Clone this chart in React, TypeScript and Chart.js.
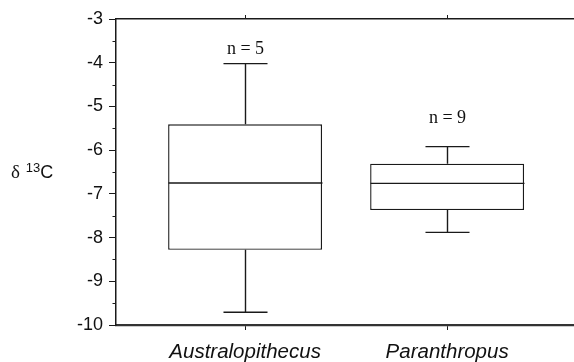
import React, { useEffect, useRef } from "react";
import { Chart, registerables } from "chart.js";

Chart.register(...registerables);

const categories = ["Australopithecus", "Paranthropus"];
const positions = [1, 2];
const whiskerMin = [-9.71, -7.88];
const q1 = [-8.28, -7.37];
const median = [-6.75, -6.76];
const q3 = [-5.41, -6.31];
const whiskerMax = [-4.02, -5.92];
const sampleLabels = ["n = 5", "n = 9"];
const sampleLabelY = [-3.8, -5.37];
const yTicks = [-10, -9, -8, -7, -6, -5, -4, -3];
const yMinorTicks = [-9.5, -8.5, -7.5, -6.5, -5.5, -4.5, -3.5];

const INK = "#1a1a1a";

const boxPlugin = {
  id: "boxExtras",
  afterDatasetsDraw(chart: any) {
    const { ctx } = chart;
    const x = chart.scales.x;
    const y = chart.scales.y;
    const meta = chart.getDatasetMeta(0);
    ctx.save();
    ctx.strokeStyle = INK;
    ctx.lineWidth = 1.4;
    positions.forEach((p, i) => {
      const px = Math.round(x.getPixelForValue(p)) + 0.5;
      const bw = meta.data[i].width;
      const cap = bw * 0.286;
      const yMax = y.getPixelForValue(whiskerMax[i]);
      const yQ3 = y.getPixelForValue(q3[i]);
      const yQ1 = y.getPixelForValue(q1[i]);
      const yMin = y.getPixelForValue(whiskerMin[i]);
      const yMed = y.getPixelForValue(median[i]);
      ctx.beginPath();
      ctx.moveTo(px, yQ3);
      ctx.lineTo(px, yMax);
      ctx.moveTo(px - cap / 2, yMax);
      ctx.lineTo(px + cap / 2, yMax);
      ctx.moveTo(px, yQ1);
      ctx.lineTo(px, yMin);
      ctx.moveTo(px - cap / 2, yMin);
      ctx.lineTo(px + cap / 2, yMin);
      ctx.moveTo(px - bw / 2, yMed);
      ctx.lineTo(px + bw / 2, yMed);
      ctx.stroke();
      ctx.fillStyle = "#111";
      ctx.font = '18px "Liberation Serif", "Times New Roman", serif';
      ctx.textAlign = "center";
      ctx.textBaseline = "alphabetic";
      ctx.fillText(sampleLabels[i], px, y.getPixelForValue(sampleLabelY[i]));
    });
    // minor ticks on y axis
    ctx.lineWidth = 1;
    ctx.beginPath();
    yMinorTicks.forEach((v) => {
      const py = Math.round(y.getPixelForValue(v)) + 0.5;
      ctx.moveTo(y.right - 3.5, py);
      ctx.lineTo(y.right, py);
    });
    ctx.stroke();
    // y axis title: δ 13C
    const baseY = chart.chartArea.top + (chart.chartArea.bottom - chart.chartArea.top) * 0.518;
    ctx.fillStyle = "#111";
    ctx.textAlign = "left";
    ctx.textBaseline = "alphabetic";
    let cx = 11;
    ctx.font = '19px "Liberation Serif", "Times New Roman", serif';
    ctx.fillText("δ", cx, baseY);
    cx += ctx.measureText("δ ").width + 1;
    ctx.font = '13px "Liberation Sans", Arial, sans-serif';
    ctx.fillText("13", cx, baseY - 6);
    cx += ctx.measureText("13").width;
    ctx.font = '18px "Liberation Sans", Arial, sans-serif';
    ctx.fillText("C", cx, baseY);
    ctx.restore();
  },
};

export default function App() {
  const ref = useRef<HTMLCanvasElement>(null);
  useEffect(() => {
    const canvas = ref.current;
    if (!canvas) return;
    const chart = new Chart(canvas, {
      type: "bar",
      data: {
        datasets: [
          {
            data: positions.map((p, i) => ({ x: p, y: [q1[i], q3[i]] })) as any,
            backgroundColor: "#ffffff",
            borderColor: INK,
            borderWidth: 1.4,
            borderSkipped: false,
            categoryPercentage: 1,
            barPercentage: 0.762,
          },
        ],
      },
      options: {
        responsive: false,
        animation: false,
        layout: { padding: 0 },
        plugins: { legend: { display: false }, tooltip: { enabled: false } },
        scales: {
          x: {
            type: "linear",
            position: "bottom",
            offset: false,
            min: 0.361,
            max: 2.628,
            afterBuildTicks: (s: any) => {
              s.ticks = positions.map((v) => ({ value: v }));
            },
            afterFit: (s: any) => {
              s.height = 37;
            },
            ticks: {
              callback: (v: any) => categories[positions.indexOf(Number(v))] ?? "",
              font: { family: '"Liberation Sans", Arial, sans-serif', size: 20.5, style: "italic" },
              color: "#111",
              padding: 10,
              maxRotation: 0,
              autoSkip: false,
            },
            grid: { offset: false, drawOnChartArea: false, tickLength: 5, color: INK, tickWidth: 1 },
            border: { color: "#333", width: 2.2 },
          },
          x2: {
            type: "linear",
            position: "top",
            offset: false,
            min: 0.361,
            max: 2.628,
            afterBuildTicks: (s: any) => {
              s.ticks = positions.map((v) => ({ value: v }));
            },
            afterFit: (s: any) => {
              s.height = 19;
            },
            ticks: { display: false },
            grid: { offset: false, drawOnChartArea: false, tickLength: 4, color: INK, tickWidth: 1 },
            border: { color: INK, width: 1.5 },
          },
          y: {
            type: "linear",
            min: -10,
            max: -3,
            afterBuildTicks: (s: any) => {
              s.ticks = yTicks.map((v) => ({ value: v }));
            },
            afterFit: (s: any) => {
              s.width = 116;
            },
            ticks: {
              font: { family: '"Liberation Sans", Arial, sans-serif', size: 18 },
              color: "#111",
              padding: 6,
            },
            grid: { drawOnChartArea: false, tickLength: 7, color: INK, tickWidth: 1 },
            border: { color: INK, width: 1.5 },
          },
        },
      },
      plugins: [boxPlugin],
    } as any);
    return () => chart.destroy();
  }, []);
  return (
    <div style={{ position: "fixed", left: 0, top: 0, width: 574, height: 362, background: "#fff" }}>
      <canvas ref={ref} width={574} height={362} style={{ width: 574, height: 362 }} />
    </div>
  );
}
